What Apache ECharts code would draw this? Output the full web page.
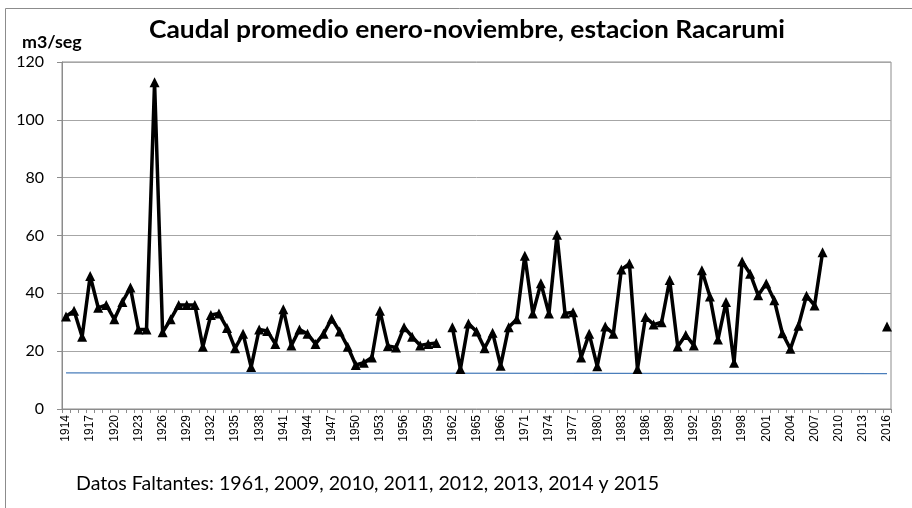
<!DOCTYPE html>
<html>
<head>
<meta charset="utf-8">
<script src="https://cdn.jsdelivr.net/npm/echarts@6/dist/echarts.min.js"></script>
<style>
  html, body { margin: 0; padding: 0; background: #fff; }
  #chart { width: 912px; height: 508px; }
</style>
</head>
<body>
<div id="chart"></div>
<script>
// años (la etiqueta en la posicion de 1968 aparece como "1966" en el original)
const years = [
  '1914','1915','1916','1917','1918','1919','1920','1921','1922','1923',
  '1924','1925','1926','1927','1928','1929','1930','1931','1932','1933',
  '1934','1935','1936','1937','1938','1939','1940','1941','1942','1943',
  '1944','1945','1946','1947','1948','1949','1950','1951','1952','1953',
  '1954','1955','1956','1957','1958','1959','1960','1961','1962','1963',
  '1964','1965','1966','1967','1966','1969','1970','1971','1972','1973',
  '1974','1975','1976','1977','1978','1979','1980','1981','1982','1983',
  '1984','1985','1986','1987','1988','1989','1990','1991','1992','1993',
  '1994','1995','1996','1997','1998','1999','2000','2001','2002','2003',
  '2004','2005','2006','2007','2008','2009','2010','2011','2012','2013',
  '2014','2015','2016'
];

// caudal promedio enero-noviembre (m3/seg), null = dato faltante
const caudal = [
  32, 34, 25, 46, 35, 36, 31, 37, 42, 27.5,
  27.5, 113, 26.5, 31, 36, 36, 36, 21.5, 32.5, 33,
  28, 21, 26, 14.5, 27.5, 27, 22.5, 34.5, 22, 27.5,
  26, 22.5, 26, 31.2, 26.8, 21.5, 15.2, 16, 17.8, 34,
  21.8, 21.3, 28.3, 25, 22, 22.5, 22.8, null, 28.3, 13.8,
  29.6, 26.8, 21, 26.4, 15, 28.3, 31, 53, 33, 43.5,
  33, 60.3, 33, 33.5, 17.8, 26, 14.8, 28.5, 26, 48.2,
  50.3, 13.8, 31.8, 29.2, 30, 44.6, 21.6, 25.6, 22, 48,
  38.9, 24, 37, 16, 51, 46.8, 39.3, 43.4, 37.6, 26.2,
  20.8, 28.8, 39.2, 35.8, 54.2, null, null, null, null, null,
  null, null, 28.5
];

// linea azul de referencia (extremos)
const refLine = [12.5];
while (refLine.length < years.length - 1) refLine.push(null);
refLine.push(12.2);

const yTicks = { min: 0, max: 120, interval: 20 };

const chart = echarts.init(document.getElementById('chart'));
chart.setOption({
  backgroundColor: '#fff',
  animation: false,
  graphic: [
    {
      type: 'rect',
      shape: { x: 5.5, y: 8.5, width: 1000, height: 1000 },
      style: { fill: 'none', stroke: '#8c8c8c', lineWidth: 1 },
      silent: true
    },
    {
      type: 'text',
      x: 467,
      y: 30,
      scaleX: 1.1,
      style: {
        text: 'Caudal promedio enero-noviembre, estacion Racarumi',
        textAlign: 'center',
        textVerticalAlign: 'middle',
        fontFamily: 'Lato',
        fontWeight: 'bold',
        fontSize: 24,
        fill: '#000'
      }
    },
    {
      type: 'text',
      x: 22,
      y: 43,
      scaleX: 1.05,
      style: {
        text: 'm3/seg',
        textVerticalAlign: 'middle',
        fontFamily: 'Lato',
        fontWeight: 'bold',
        fontSize: 17,
        fill: '#000'
      }
    },
    {
      type: 'text',
      x: 76,
      y: 484,
      scaleX: 1.03,
      style: {
        text: 'Datos Faltantes: 1961, 2009, 2010, 2011, 2012, 2013, 2014 y 2015',
        textVerticalAlign: 'middle',
        fontFamily: 'Lato',
        fontSize: 19,
        fill: '#000'
      }
    }
  ],
  grid: {
    left: 62,
    right: 21,
    top: 62,
    bottom: 99,
    show: true,
    borderColor: '#8c8c8c',
    borderWidth: 1
  },
  xAxis: {
    type: 'category',
    data: years,
    boundaryGap: true,
    axisLine: { lineStyle: { color: '#8c8c8c', width: 1 } },
    axisTick: { show: true, interval: 0, length: 4, lineStyle: { color: '#8c8c8c' } },
    axisLabel: {
      interval: 2,
      rotate: 90,
      margin: 6,
      fontFamily: 'Liberation Sans',
      fontSize: 12,
      color: '#000'
    },
    splitLine: { show: false }
  },
  yAxis: {
    type: 'value',
    min: yTicks.min,
    max: yTicks.max,
    interval: yTicks.interval,
    axisLine: { show: true, lineStyle: { color: '#8c8c8c', width: 1 } },
    axisTick: { show: true, length: 5, lineStyle: { color: '#8c8c8c' } },
    axisLabel: {
      margin: 18,
      fontFamily: 'Lato',
      fontSize: 16,
      color: '#000'
    },
    splitLine: { lineStyle: { color: '#a6a6a6', width: 1 } }
  },
  series: [
    {
      name: 'referencia',
      type: 'line',
      data: refLine,
      connectNulls: true,
      symbol: 'none',
      lineStyle: { color: '#4a7ebb', width: 1.2 },
      z: 1
    },
    {
      name: 'caudal',
      type: 'line',
      data: caudal,
      connectNulls: false,
      symbol: 'triangle',
      symbolSize: 10,
      showAllSymbol: true,
      itemStyle: { color: '#000' },
      lineStyle: { color: '#000', width: 3.5 },
      z: 3
    }
  ]
});
</script>
</body>
</html>
